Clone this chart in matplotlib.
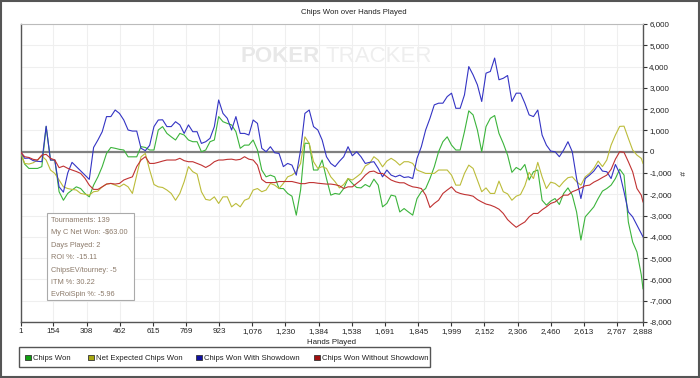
import matplotlib
matplotlib.use("Agg")
import matplotlib.pyplot as plt
from matplotlib.patches import Rectangle
from matplotlib.ticker import FuncFormatter

plt.rcParams['font.family'] = ['Liberation Sans', 'DejaVu Sans']

hands = [1] + list(range(20, 2881, 20)) + [2888]

chips_won = [0, -580, -785, -785, -785, -700, 1180, -390, -390, -1880,
             -2280, -1960, -1800, -1650, -1730, -1960, -2120, -1570, -1180, -700,
             -80, 200, 160, 110, 80, -240, -240, -240, 240, 200,
             80, 80, 1020, 1180, 860, 700, 550, 860, 785, 550,
             470, 470, 0, 80, 470, 550, 1650, 1410, 1330, 1260,
             940, 160, 310, 310, 550, 80, -860, -1180, -1100, -1180,
             -1730, -1730, -1960, -2090, -2980, -1800, 400, 390, -860, -860,
             -390, -1260, -2040, -1960, -2000, -1730, -1260, -1490, -1680, -1700,
             -1540, -1650, -1290, -1570, -2590, -2430, -2040, -2090, -2830, -2670,
             -2830, -2980, -2200, -1880, -1730, -1260, -710, 0, 470, 700,
             310, 80, 80, 940, 1920, 1730, 1020, 0, 1180, 1570,
             1700, 860, 390, -160, -970, -740, -860, -600, -1330, -940,
             -860, -2280, -2510, -2320, -2200, -2480, -1960, -1700, -2040, -2830,
             -4150, -3060, -2830, -2590, -2200, -1850, -1730, -1570, -1260, -820,
             -1100, -3300, -4240, -4710, -5780, -6440]

net_expected = [0, -550, -580, -520, -390, -200, -390, -860, -1020, -1330,
                -1650, -1730, -1770, -1800, -1960, -2000, -2040, -1880, -1850, -1650,
                -1520, -1490, -1570, -1650, -1520, -1650, -1960, -1100, -240, -80,
                -860, -1540, -1650, -1680, -1800, -1960, -2280, -1960, -1410, -700,
                -940, -1050, -1880, -2240, -2280, -2120, -2430, -2120, -2120, -2590,
                -2430, -2590, -2280, -2200, -1800, -1730, -1880, -1800, -1490, -1570,
                -1730, -1490, -1180, -1100, -940, -550, 700, 390, -470, -785,
                -700, -785, -1180, -1410, -1700, -1540, -1260, -1330, -1180, -1020,
                -670, -550, -235, -390, -710, -440, -310, -440, -630, -470,
                -470, -550, -860, -940, -1020, -1020, -1020, -860, -860, -860,
                -1100, -1570, -1570, -1020, -630, -785, -1330, -1880, -1700, -1960,
                -1960, -1380, -1880, -1980, -2280, -2090, -2010, -1600, -970, -1260,
                -500, -1180, -1730, -1430, -1490, -1650, -1410, -1220, -1180, -1410,
                -1570, -1180, -1020, -785, -440, -700, -390, 310, 785, 1190,
                1200, 630, 80, -160, -310, -550]

won_showdown = [0, -310, -300, -420, -450, -470, 1200, -390, -390, -1650,
                -1900, -1000, -500, -700, -900, -1100, -1300, 200, 550, 940,
                1650, 1650, 1960, 1800, 1490, 1020, 970, 970, 160, 50,
                300, 1180, 1490, 1500, 1180, 1180, 1410, 1260, 860, 1260,
                940, 940, 390, 470, 630, 1180, 2430, 1800, 1570, 1020,
                1650, 860, 860, 785, 1490, 1330, 160, 0, 235, -50,
                -80, -700, -550, -630, -1100, 80, 1800, 1960, 1180, 1020,
                550, -235, -550, -700, -450, -235, 235, -190, 0, -235,
                -550, -500, -470, -785, -1180, -860, -1100, -1180, -1100, -1210,
                -1180, -1260, -310, 235, 1020, 1570, 2200, 2280, 2280, 2590,
                2750, 2040, 2040, 2670, 4000, 3610, 3140, 2360, 3690, 3770,
                4400, 3380, 3450, 3580, 2360, 2750, 2750, 2280, 1730, 1650,
                1960, 785, 310, 30, 0, -235, 80, 470, 0, -1260,
                -2200, -1260, -1100, -910, -630, -910, -940, -1260, -600, -1020,
                -1880, -2830, -3060, -3450, -3850, -4000]

won_no_showdown = [0, -235, -270, -360, -390, -157, -125, -310, -390, -750,
                   -675, -780, -860, -930, -1020, -1250, -1570, -1770, -1770, -1650,
                   -1520, -1490, -1520, -1490, -1330, -1250, -1180, -700, -390, -235,
                   -550, -550, -500, -440, -390, -390, -390, -310, -420, -470,
                   -470, -550, -630, -740, -630, -470, -390, -390, -360, -350,
                   -390, -360, -235, -350, -390, -630, -1300, -1450, -1450, -1450,
                   -1400, -1400, -1400, -1400, -1450, -1500, -1500, -1450, -1450, -1480,
                   -1500, -1520, -1520, -1550, -1600, -1730, -1650, -1650, -1490, -1330,
                   -1100, -940, -910, -1020, -1020, -1180, -1330, -1410, -1460, -1460,
                   -1570, -1650, -1680, -1730, -2040, -2620, -2430, -2280, -1960, -1800,
                   -1650, -1880, -1960, -2010, -2040, -2090, -2250, -2360, -2460, -2510,
                   -2590, -2700, -2900, -3190, -3380, -3550, -3420, -3300, -3060, -2900,
                   -2900, -2730, -2590, -2430, -2360, -2200, -2040, -2040, -1880, -1800,
                   -1700, -1600, -1570, -1430, -1330, -1210, -1100, -830, -350, 0,
                   -30, -470, -940, -1730, -2040, -2360]

series_names = ['Chips Won', 'Net Expected Chips Won', 'Chips Won With Showdown',
                'Chips Won Without Showdown']
line_colors = ['#3cb43c', '#bcbc3a', '#3434c4', '#c03232']
legend_colors = ['#10a010', '#a8a810', '#1010a0', '#a01010']

x_ticks = [1, 154, 308, 462, 615, 769, 923, 1076, 1230, 1384, 1538, 1691, 1845, 1999,
           2152, 2306, 2460, 2613, 2767, 2888]

stats_lines = ['Tournaments: 139', 'My C Net Won: -$63.00', 'Days Played: 2',
               'ROI %: -15.11', 'ChipsEV/tourney: -5', 'ITM %: 30.22',
               'EvRoiSpin %: -5.96']

W, H = 700, 378
fig = plt.figure(figsize=(7, 3.78), dpi=100)
fig.patch.set_facecolor('white')

def fx(px):
    return px / W

def fy(py):
    return 1 - py / H

ax = fig.add_axes([fx(20.5), fy(322), fx(643) - fx(20.5), fy(24) - fy(322)])

# watermark
fig.text(fx(241), fy(56), 'POKER', fontsize=16, fontweight='bold', color='#e8e8e8',
         va='center', ha='left', zorder=0)
fig.text(fx(325), fy(56), 'TRACKER', fontsize=16, color='#eeeeee',
         va='center', ha='left', zorder=0)
ax.patch.set_alpha(0)

all_series = [chips_won, net_expected, won_showdown, won_no_showdown]
for vals, col in zip(all_series, line_colors):
    ax.plot(hands, vals, color=col, lw=0.8, zorder=3)

ax.axhline(0, color='#808080', lw=1.6, zorder=2)

ax.set_xlim(1, 2888)
ax.set_ylim(-8000, 6000)
ax.set_xticks(x_ticks)
ax.set_xticklabels([f'{t:,}' for t in x_ticks])
ax.set_yticks(range(-8000, 6001, 1000))
ax.yaxis.set_major_formatter(FuncFormatter(lambda v, p: f'{int(v):,}'))
ax.yaxis.tick_right()
ax.yaxis.set_label_position('right')
ax.tick_params(axis='both', labelsize=5.8, colors='#333333', length=3, width=0.8,
               pad=1.5)
ax.tick_params(axis='both', labelcolor='#222222')
ax.grid(True, color='#efefef', lw=0.8, zorder=0)

for side in ['left', 'bottom', 'right']:
    ax.spines[side].set_color('#555555')
    ax.spines[side].set_linewidth(1.0)
ax.spines['top'].set_color('#bbbbbb')
ax.spines['top'].set_linewidth(0.8)

ax.set_xlabel('Hands Played', fontsize=5.7, color='#222222', labelpad=2.5)
ax.set_ylabel('#', fontsize=6, color='#222222', rotation=270, labelpad=9)

fig.text(fx(354), fy(13), 'Chips Won over Hands Played', fontsize=5.6,
         color='#222222', ha='center', va='center')

# stats box
fig.patches.append(Rectangle((fx(47), fy(300)), fx(134) - fx(47), fy(213) - fy(300),
                             transform=fig.transFigure, facecolor='white',
                             edgecolor='#aaaaaa', lw=0.8, zorder=5))
for i, s in enumerate(stats_lines):
    fig.text(fx(51), fy(220.5 + i * 12.4), s, fontsize=5.3, color='#8c7a6a',
             ha='left', va='center', zorder=6)

# legend
fig.patches.append(Rectangle((fx(19), fy(367)), fx(430) - fx(19), fy(347) - fy(367),
                             transform=fig.transFigure, facecolor='white',
                             edgecolor='#555555', lw=1.0))
leg_sq_x = [25, 88, 196, 314]
for name, col, sx in zip(series_names, legend_colors, leg_sq_x):
    fig.patches.append(Rectangle((fx(sx), fy(360)), fx(5.5), fy(354.5) - fy(360),
                                 transform=fig.transFigure, facecolor=col,
                                 edgecolor='#333333', lw=0.6))
    fig.text(fx(sx + 8), fy(357.3), name, fontsize=5.6, color='#222222',
             ha='left', va='center_baseline')

# outer frame
fig.patches.append(Rectangle((0.001, 0.003), 0.997, 0.995, transform=fig.transFigure,
                             fill=False, edgecolor='#555555', lw=1.5))

fig.savefig('out.png', dpi=100)
